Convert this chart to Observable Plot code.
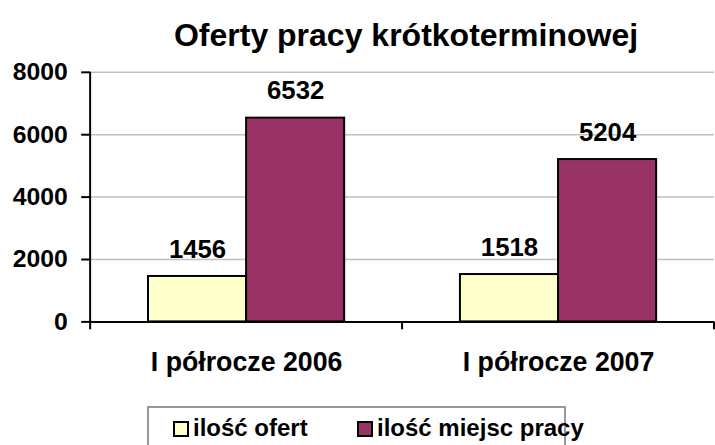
<!DOCTYPE html>
<html><head><meta charset="utf-8">
<script src="https://cdn.jsdelivr.net/npm/d3@7"></script>
<script src="https://cdn.jsdelivr.net/npm/@observablehq/plot@0.6"></script>
<style>
html,body{margin:0;padding:0;background:#fff;overflow:hidden;width:715px;height:445px;}
body{font-family:"Liberation Sans",Arial,sans-serif;font-weight:bold;color:#000;position:relative;}
#title{height:55px;position:relative;}
#title span{position:absolute;left:91px;width:630px;top:19px;text-align:center;font-size:32px;line-height:1;white-space:nowrap;}
#chart{height:335px;}
#chart svg{display:block;overflow:visible;}
#legend{position:absolute;left:147px;top:406px;width:415px;height:50px;border:2px solid #999;box-sizing:content-box;}
.item{position:absolute;top:8px;display:flex;align-items:flex-start;font-size:24px;line-height:1;white-space:nowrap;}
.sw{width:12px;height:12px;border:2px solid #000;margin-top:5px;margin-right:4px;}
</style>
</head><body>
<div id="title"><span>Oferty pracy krótkoterminowej</span></div>
<div id="chart"></div>
<div id="legend"></div>
<script>
const categories = ["I półrocze 2006", "I półrocze 2007"];
const seriesNames = ["ilość ofert", "ilość miejsc pracy"];
const ofert = [1456, 1518];
const miejsc = [6532, 5204];
const colors = ["#FFFFCC", "#993366"];
const yTicks = [0, 2000, 4000, 6000, 8000];

const rows = [];
categories.forEach((c, i) => {
  rows.push({category: c, series: seriesNames[0], value: ofert[i]});
  rows.push({category: c, series: seriesNames[1], value: miejsc[i]});
});

const chart = Plot.plot({
  width: 722, height: 335,
  marginLeft: 91, marginRight: 1, marginTop: 17, marginBottom: 66,
  style: {fontFamily: "Liberation Sans, Arial, sans-serif", fontWeight: "bold", fontSize: "25px", color: "#000", background: "transparent", overflow: "visible"},
  fx: {domain: categories, padding: 0, round: false, label: null},
  x: {domain: seriesNames, paddingInner: 0, paddingOuter: 0.59, round: false, axis: null},
  y: {domain: [0, 8000], label: null},
  color: {domain: seriesNames, range: colors},
  marks: [
    Plot.ruleY(yTicks.filter(d => d > 0), {stroke: "#c0c0c0", strokeWidth: 1.5}),
    Plot.barY(rows, {fx: "category", x: "series", y: "value", fill: "series", stroke: "#000", strokeWidth: 2}),
    Plot.text(rows, {fx: "category", x: "series", y: "value", text: d => String(d.value), lineAnchor: "bottom", dy: -19, fontSize: 26, fontWeight: "bold", fill: "#000"}),
    Plot.ruleY([0], {stroke: "#000", strokeWidth: 2}),
    Plot.axisY({ticks: yTicks, tickSize: 9, tickPadding: 14, tickFormat: d => String(d), fontSize: 25, strokeWidth: 2, label: null}),
    Plot.axisFx({anchor: "bottom", tickSize: 0, tickPadding: 30, fontSize: 27, label: null})
  ]
});
document.getElementById("chart").appendChild(chart);

// axis line and category boundary ticks from the scales
const svg = d3.select(chart);
const ys = chart.scale("y");
const fxs = chart.scale("fx");
const y0 = ys.apply(0), yTop = ys.apply(8000);
const step = fxs.step ?? ((fxs.range[1] - fxs.range[0]) / categories.length);
const starts = categories.map(c => fxs.apply(c));
const bounds = starts.concat([starts[starts.length - 1] + step]);
svg.append("line").attr("x1", bounds[0]).attr("x2", bounds[0]).attr("y1", yTop).attr("y2", y0)
  .attr("stroke", "#000").attr("stroke-width", 2);
bounds.forEach(b => {
  svg.append("line").attr("x1", b).attr("x2", b).attr("y1", y0).attr("y2", y0 + 8)
    .attr("stroke", "#000").attr("stroke-width", 2);
});

// legend
const legend = document.getElementById("legend");
const lefts = [24, 208];
seriesNames.forEach((s, i) => {
  const it = document.createElement("div");
  it.className = "item";
  it.style.left = lefts[i] + "px";
  const sw = document.createElement("div");
  sw.className = "sw";
  sw.style.background = colors[i];
  const t = document.createElement("span");
  t.textContent = s;
  it.appendChild(sw); it.appendChild(t);
  legend.appendChild(it);
});
</script>
</body></html>
